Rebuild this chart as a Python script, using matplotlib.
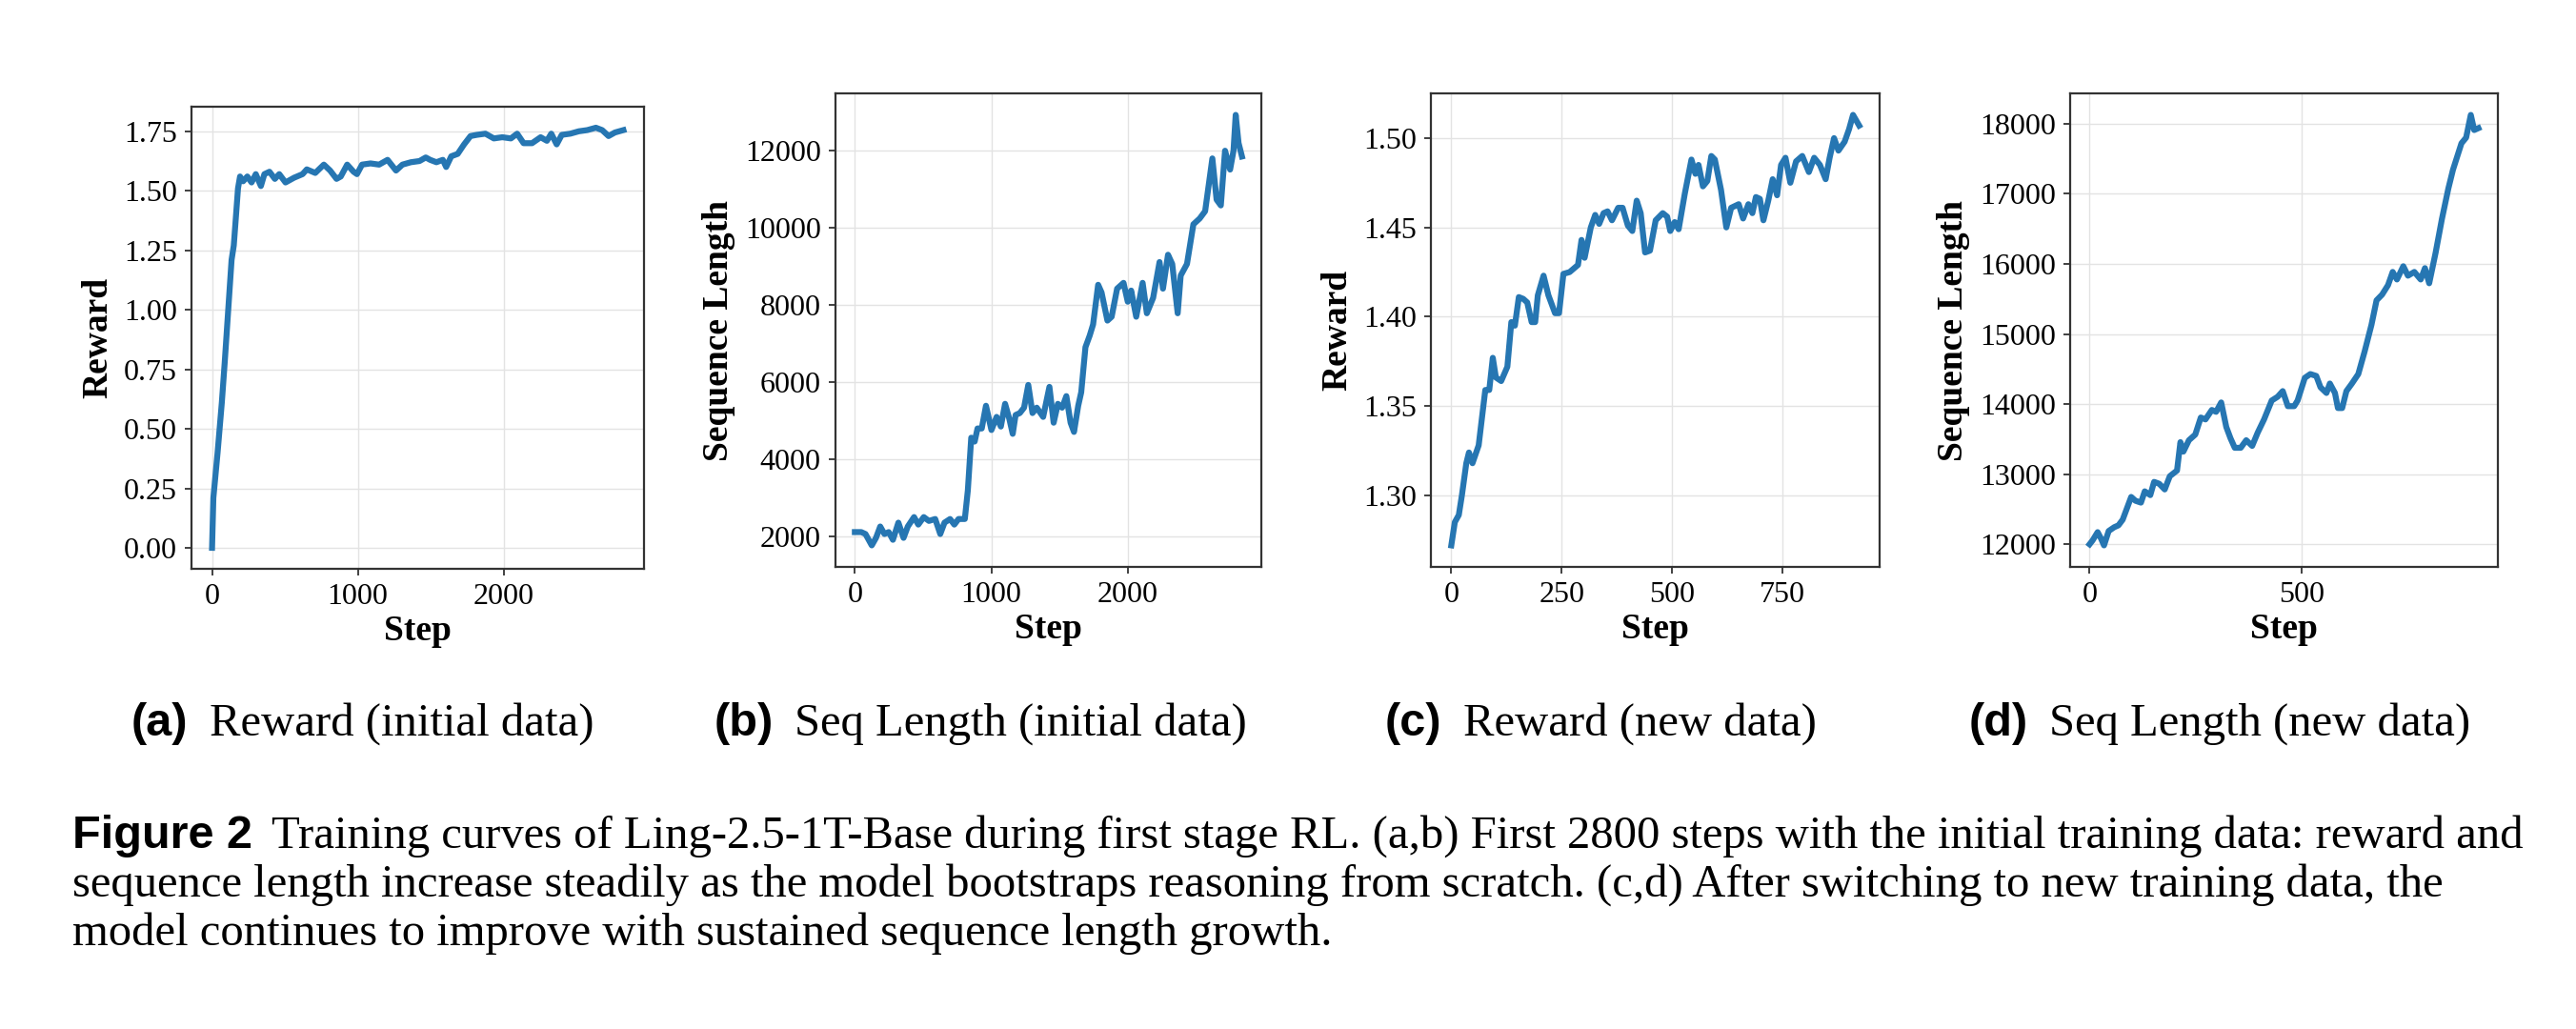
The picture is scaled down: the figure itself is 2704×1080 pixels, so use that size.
import matplotlib
matplotlib.use("Agg")
import matplotlib.pyplot as plt

# (a) reward, initial data
a_step = [0, 9, 38, 67, 87, 111, 134, 149, 163, 178, 192, 213, 242, 271, 300, 335, 359, 394,
          431, 461, 504, 563, 621, 650, 708, 767, 810, 854, 883, 927, 971, 994, 1029, 1087,
          1146, 1204, 1262, 1306, 1364, 1423, 1466, 1496, 1539, 1583, 1606, 1641, 1685, 1729,
          1773, 1816, 1875, 1933, 1991, 2050, 2093, 2137, 2195, 2254, 2297, 2327, 2364, 2399,
          2458, 2516, 2574, 2633, 2676, 2720, 2764, 2822]
a_val = [0.00, 0.21, 0.40, 0.61, 0.78, 1.00, 1.21, 1.27, 1.385, 1.51, 1.56, 1.54, 1.56, 1.535,
         1.57, 1.52, 1.57, 1.58, 1.55, 1.57, 1.535, 1.555, 1.57, 1.59, 1.575, 1.61, 1.585, 1.55,
         1.56, 1.61, 1.58, 1.57, 1.61, 1.615, 1.61, 1.63, 1.585, 1.61, 1.62, 1.625, 1.64, 1.63,
         1.62, 1.63, 1.60, 1.645, 1.655, 1.695, 1.73, 1.735, 1.74, 1.72, 1.725, 1.72, 1.74,
         1.70, 1.70, 1.725, 1.71, 1.74, 1.695, 1.735, 1.74, 1.75, 1.755, 1.765, 1.755, 1.73,
         1.745, 1.755]

# (b) sequence length, initial data
b_step = [0, 47, 78, 124, 155, 186, 217, 248, 279, 319, 357, 388, 434, 465, 505, 543, 589, 626,
          657, 698, 729, 760, 806, 828, 853, 878, 899, 930, 961, 1001, 1039, 1070, 1101, 1132,
          1157, 1178, 1209, 1240, 1271, 1302, 1333, 1380, 1426, 1457, 1488, 1519, 1550, 1581,
          1606, 1637, 1659, 1690, 1721, 1746, 1783, 1808, 1851, 1882, 1922, 1969, 2000, 2025,
          2062, 2109, 2140, 2186, 2233, 2258, 2295, 2326, 2366, 2388, 2434, 2481, 2527, 2567,
          2620, 2651, 2682, 2713, 2750, 2775, 2791, 2812, 2837]
b_val = [2100, 2100, 2050, 1755, 1950, 2245, 2050, 2100, 1900, 2345, 1950, 2245, 2490, 2295,
         2490, 2390, 2440, 2050, 2345, 2440, 2295, 2440, 2440, 3180, 4550, 4450, 4790, 4790,
         5380, 4750, 5090, 4840, 5430, 5040, 4650, 5140, 5190, 5330, 5920, 5190, 5330, 5090,
         5870, 4940, 5430, 5330, 5630, 4940, 4700, 5380, 5730, 6900, 7200, 7490, 8520, 8320,
         7590, 7690, 8420, 8570, 8080, 8370, 7690, 8570, 7780, 8180, 9110, 8420, 9300, 9060,
         7780, 8760, 9060, 10090, 10240, 10430, 11800, 10730, 10580, 12000, 11510, 12000,
         12930, 12200, 11850]

# (c) reward, new data
c_step = [0, 8, 17, 24, 34, 40, 48, 62, 77, 86, 94, 101, 113, 127, 136, 144, 153, 163, 172,
          182, 190, 196, 209, 220, 235, 244, 254, 268, 287, 295, 302, 316, 326, 335, 345, 354,
          364, 378, 388, 400, 410, 420, 429, 439, 450, 463, 479, 489, 496, 506, 515, 529, 544,
          553, 560, 570, 580, 589, 597, 611, 623, 634, 651, 661, 673, 682, 690, 699, 707, 718,
          728, 738, 747, 757, 768, 781, 795, 810, 822, 835, 848, 857, 867, 877, 891, 901, 910,
          924]
c_val = [1.272, 1.285, 1.289, 1.300, 1.318, 1.324, 1.318, 1.328, 1.359, 1.359, 1.377, 1.366,
         1.364, 1.372, 1.397, 1.395, 1.411, 1.410, 1.408, 1.397, 1.397, 1.412, 1.423, 1.412,
         1.402, 1.402, 1.424, 1.425, 1.429, 1.443, 1.433, 1.450, 1.457, 1.452, 1.458, 1.459,
         1.454, 1.461, 1.461, 1.451, 1.448, 1.465, 1.458, 1.436, 1.437, 1.454, 1.458, 1.456,
         1.448, 1.453, 1.449, 1.469, 1.488, 1.480, 1.485, 1.473, 1.476, 1.490, 1.488, 1.471,
         1.450, 1.461, 1.463, 1.455, 1.463, 1.458, 1.467, 1.466, 1.454, 1.465, 1.477, 1.468,
         1.485, 1.489, 1.475, 1.487, 1.490, 1.481, 1.489, 1.485, 1.477, 1.489, 1.500, 1.493,
         1.498, 1.505, 1.513, 1.507]

# (d) sequence length, new data
d_step = [0, 7, 19, 27, 34, 45, 58, 68, 78, 88, 98, 108, 121, 130, 143, 152, 164, 177, 189,
          206, 214, 221, 234, 249, 262, 273, 288, 298, 310, 322, 332, 342, 356, 369, 383, 396,
          411, 429, 443, 455, 467, 482, 490, 507, 520, 534, 544, 558, 566, 578, 585, 595, 605,
          618, 633, 648, 664, 676, 689, 703, 714, 724, 739, 750, 765, 780, 790, 800, 815, 830,
          845, 856, 866, 876, 887, 898, 906, 916]
d_val = [12000, 12054, 12173, 12081, 11984, 12189, 12243, 12270, 12351, 12513, 12675, 12621,
         12594, 12755, 12701, 12890, 12863, 12782, 12971, 13052, 13457, 13322, 13484, 13565,
         13808, 13781, 13916, 13889, 14023, 13673, 13511, 13376, 13376, 13484, 13403, 13592,
         13781, 14050, 14104, 14185, 13970, 13970, 14050, 14374, 14428, 14401, 14239, 14158,
         14293, 14158, 13943, 13943, 14185, 14293, 14428, 14752, 15130, 15480, 15561, 15696,
         15885, 15777, 15966, 15831, 15885, 15777, 15939, 15723, 16155, 16641, 17072, 17342,
         17531, 17720, 17801, 18125, 17909, 17936]

y_labels = ["Reward", "Sequence Length", "Reward", "Sequence Length"]
x_ticks = [[0, 1000, 2000], [0, 1000, 2000], [0, 250, 500, 750], [0, 500]]
y_ticks = [[0.0, 0.25, 0.5, 0.75, 1.0, 1.25, 1.5, 1.75],
           [2000, 4000, 6000, 8000, 10000, 12000],
           [1.30, 1.35, 1.40, 1.45, 1.50],
           [12000, 13000, 14000, 15000, 16000, 17000, 18000]]
y_fmt = ["{:.2f}", "{:.0f}", "{:.2f}", "{:.0f}"]
sub_tags = ["(a)", "(b)", "(c)", "(d)"]
sub_texts = ["Reward (initial data)", "Seq Length (initial data)",
             "Reward (new data)", "Seq Length (new data)"]
caption = ["Training curves of Ling-2.5-1T-Base during first stage RL. (a,b) First 2800 steps "
           "with the initial training data: reward and",
           "sequence length increase steadily as the model bootstraps reasoning from scratch. "
           "(c,d) After switching to new training data, the",
           "model continues to improve with sustained sequence length growth."]

W, H = 2704, 1080
fig = plt.figure(figsize=(W / 100, H / 100), dpi=100)
plt.rcParams["font.family"] = "Liberation Serif"

# axes boxes in pixels: left, top, right, bottom
boxes = [(201, 112, 676, 597), (877, 98, 1324, 595), (1502, 98, 1973, 595), (2173, 98, 2622, 595)]
series = [(a_step, a_val), (b_step, b_val), (c_step, c_val), (d_step, d_val)]

for i in range(4):
    l, t, r, b = boxes[i]
    ax = fig.add_axes([l / W, 1 - b / H, (r - l) / W, (b - t) / H])
    xs, ys = series[i]
    ax.plot(xs, ys, color="#2676b2", lw=4.5, solid_joinstyle="round")
    ax.set_xticks(x_ticks[i])
    ax.set_yticks(y_ticks[i])
    ax.set_yticklabels([y_fmt[i].format(v) for v in y_ticks[i]])
    ax.grid(True, color="#e3e3e3", lw=1.0)
    ax.set_axisbelow(True)
    ax.tick_params(labelsize=23, length=5, width=1.3, pad=6, color="#333333")
    for s in ax.spines.values():
        s.set_color("#333333")
        s.set_linewidth(1.6)
    ax.set_xlabel("Step", fontsize=27, fontweight="bold", labelpad=3)
    ax.set_ylabel(y_labels[i], fontsize=27, fontweight="bold", labelpad=7)

renderer = fig.canvas.get_renderer()


def two_part(x_px, base_px, tag, rest, size, gap):
    t1 = fig.text(x_px / W, 1 - base_px / H, tag, family="Liberation Sans",
                  fontweight="bold", fontsize=size, va="baseline")
    bb = t1.get_window_extent(renderer=renderer)
    fig.text((bb.x1 + gap) / W, 1 - base_px / H, rest, family="Liberation Serif",
             fontsize=size, va="baseline")


sub_x = [138, 750, 1454, 2067]
for i in range(4):
    two_part(sub_x[i], 772, sub_tags[i], sub_texts[i], 35, 22)

# caption block
two_part(76, 890, "Figure 2", caption[0], 35, 20)
fig.text(76 / W, 1 - 941 / H, caption[1], family="Liberation Serif", fontsize=35, va="baseline")
fig.text(76 / W, 1 - 992 / H, caption[2], family="Liberation Serif", fontsize=35, va="baseline")

fig.savefig("out.png", dpi=100)
